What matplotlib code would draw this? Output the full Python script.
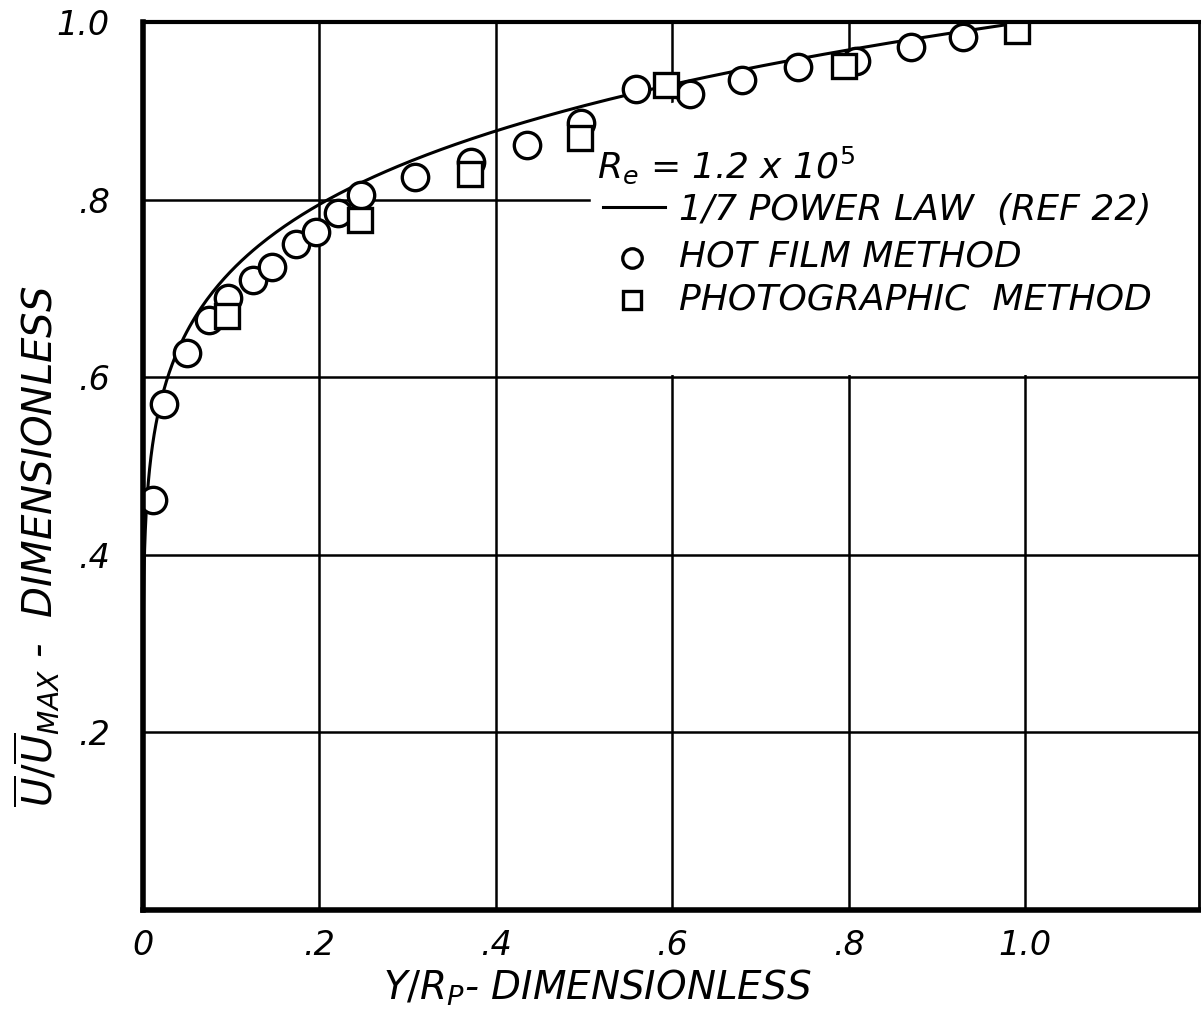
import matplotlib.pyplot as plt
import numpy as np

# hot film method (circles)
hf_x = [0.011, 0.024, 0.050, 0.075, 0.096, 0.125, 0.146, 0.173, 0.196, 0.221,
        0.247, 0.308, 0.372, 0.435, 0.496, 0.559, 0.620, 0.679, 0.742, 0.808,
        0.871, 0.930]
hf_y = [0.462, 0.570, 0.627, 0.664, 0.689, 0.709, 0.724, 0.750, 0.764, 0.785,
        0.805, 0.825, 0.842, 0.861, 0.886, 0.925, 0.919, 0.935, 0.949, 0.956,
        0.972, 0.983]

# photographic method (squares)
ph_x = [0.095, 0.246, 0.371, 0.495, 0.593, 0.795, 0.991]
ph_y = [0.669, 0.777, 0.829, 0.869, 0.929, 0.950, 0.990]

# 1/7 power law
law_exp = 1.0 / 7.0
law_x = np.concatenate([np.linspace(0, 0.02, 200), np.linspace(0.02, 1.0, 300)])
law_y = law_x ** law_exp

x_ticks = [0, 0.2, 0.4, 0.6, 0.8, 1.0]
x_ticklabels = ['0', '.2', '.4', '.6', '.8', '1.0']
y_ticks = [0.2, 0.4, 0.6, 0.8, 1.0]
y_ticklabels = ['.2', '.4', '.6', '.8', '1.0']

plt.rcParams['font.family'] = ['DejaVu Sans']
plt.rcParams['mathtext.fontset'] = 'dejavusans'
plt.rcParams['mathtext.default'] = 'it'

fig = plt.figure(figsize=(12.01, 10.22), dpi=100)
ax = fig.add_axes([143/1201, 112/1022, 1056/1201, 888/1022])
ax.set_xlim(0, 1.197)
ax.set_ylim(0, 1.0)

# grid
for xv in x_ticks[1:]:
    ax.axvline(xv, color='k', lw=1.8, zorder=1)
for yv in y_ticks[:-1]:
    ax.axhline(yv, color='k', lw=1.8, zorder=1)

# blank area behind the legend text
fx = np.linspace(0.507, 1.2, 200)
ax.fill_between(fx, 0.603, np.minimum(fx, 1.0) ** law_exp - 0.02,
                color='white', zorder=2, lw=0)

ax.plot(law_x, law_y, color='k', lw=2.2, zorder=3)
ax.plot(hf_x, hf_y, 'o', ms=19, mfc='white', mec='k', mew=2.4, zorder=4)
ax.plot(ph_x, ph_y, 's', ms=17, mfc='white', mec='k', mew=2.4, zorder=4)

for side, w in [('left', 4), ('bottom', 4), ('top', 3), ('right', 2)]:
    ax.spines[side].set_linewidth(w)
    ax.spines[side].set_zorder(5)

ax.set_xticks(x_ticks)
ax.set_xticklabels(x_ticklabels, fontsize=24, style='italic')
ax.set_yticks(y_ticks)
ax.set_yticklabels(y_ticklabels, fontsize=24, style='italic')
ax.tick_params(axis='x', length=0, pad=14)
ax.tick_params(axis='y', length=0, pad=24)

ax.set_xlabel(r'$Y/R_P$- DIMENSIONLESS', fontsize=28, style='italic')
ax.xaxis.set_label_coords(0.43, -0.065)
ax.set_ylabel(r'$\overline{U}/\overline{U}_{MAX}$ -  DIMENSIONLESS', fontsize=29,
              style='italic')
ax.yaxis.set_label_coords(-0.077, 0.41)

# legend
ax.text(0.515, 0.839, r'$R_e$ = 1.2 x 10$^5$', fontsize=26, style='italic',
        va='center', zorder=6)
ax.plot([0.521, 0.592], [0.792, 0.792], color='k', lw=2.2, zorder=6)
ax.text(0.608, 0.788, '1/7 POWER LAW  (REF 22)', fontsize=26, style='italic',
        va='center', zorder=6)
ax.plot([0.554], [0.734], 'o', ms=14, mfc='white', mec='k', mew=2.4, zorder=6)
ax.text(0.608, 0.736, 'HOT FILM METHOD', fontsize=26, style='italic',
        va='center', zorder=6)
ax.plot([0.554], [0.687], 's', ms=13, mfc='white', mec='k', mew=2.4, zorder=6)
ax.text(0.608, 0.688, 'PHOTOGRAPHIC  METHOD', fontsize=26, style='italic',
        va='center', zorder=6)

fig.savefig('out.png', dpi=100)
